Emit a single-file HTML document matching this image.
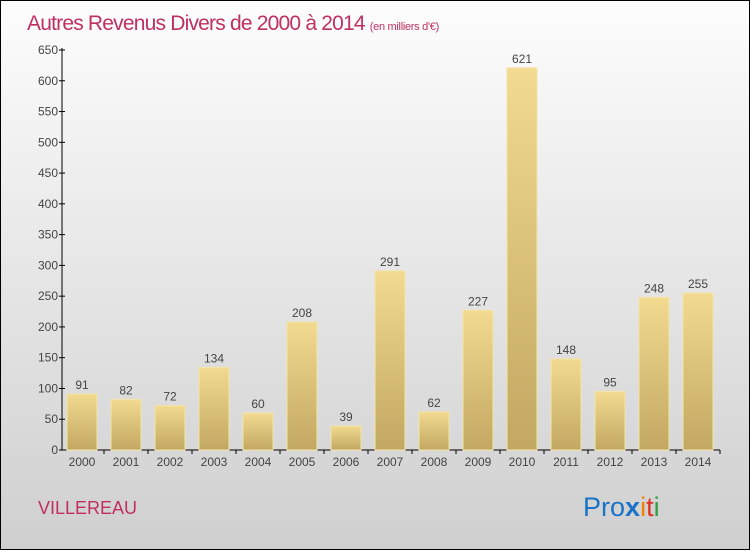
<!DOCTYPE html>
<html><head><meta charset="utf-8"><style>
body{margin:0;width:750px;height:550px;overflow:hidden;font-family:"Liberation Sans",sans-serif}
</style></head><body>
<svg width="750" height="550" xmlns="http://www.w3.org/2000/svg">
<defs>
<linearGradient id="bg" x1="0" y1="0" x2="0" y2="1"><stop offset="0" stop-color="#fdfdfd"/><stop offset="1" stop-color="#cfcfcf"/></linearGradient>
<linearGradient id="bar" x1="0" y1="0" x2="0" y2="1"><stop offset="0" stop-color="#f2da90"/><stop offset="1" stop-color="#c2a862"/></linearGradient>
</defs>
<rect x="0.5" y="0.5" width="749" height="549" fill="url(#bg)" stroke="#000"/>
<text x="27" y="30" font-size="21" letter-spacing="-0.8" fill="#c0305f">Autres Revenus Divers de 2000 à 2014 <tspan font-size="11" letter-spacing="-0.3">(en milliers d'€)</tspan></text>
<g id="axes"></g>
<g id="bars"></g>
<text x="38" y="514" font-size="18" fill="#c0305f">VILLEREAU</text>
<text x="583" y="516" font-size="27"><tspan fill="#1a73c8">Pro</tspan><tspan fill="#1a73c8" font-weight="bold">x</tspan><tspan fill="#f08000">i</tspan><tspan fill="#e03020">t</tspan><tspan fill="#30a040">i</tspan></text>
</svg>
<script>
const years=["2000","2001","2002","2003","2004","2005","2006","2007","2008","2009","2010","2011","2012","2013","2014"];
const values=[91,82,72,134,60,208,39,291,62,227,621,148,95,248,255];
const yTicks=[0,50,100,150,200,250,300,350,400,450,500,550,600,650];
const NS="http://www.w3.org/2000/svg";
const y0=450,yTop=50,yMax=650,x0=62,step=44,bw=30;
function ys(v){return y0-(v/yMax)*(y0-yTop);}
function xc(i){return 82+i*step;}
function mk(t,a,p){const e=document.createElementNS(NS,t);for(const k in a)e.setAttribute(k,a[k]);p.appendChild(e);return e;}
const ax=document.getElementById('axes'),bg=document.getElementById('bars');
const yl=mk('line',{x1:x0,y1:yTop-2,x2:x0,y2:y0,stroke:'#000'},ax);


const xl=mk('line',{x1:x0,y1:y0,x2:720,y2:y0,stroke:'#000'},ax);


yTicks.forEach(v=>{
 const tk=mk('line',{x1:x0-3,y1:ys(v),x2:x0+3,y2:ys(v),stroke:'#000'},ax);
 
 
 const t=mk('text',{x:x0-4,y:ys(v)+4,'font-size':12,fill:'#444','text-anchor':'end'},ax);
 t.textContent=v;
 
 
});
years.forEach((yr,i)=>{
 const v=values[i];
 const r=mk('rect',{x:xc(i)-bw/2,y:ys(v),width:bw,height:y0-ys(v),fill:'url(#bar)',stroke:'#f5e4a8','stroke-width':1},bg);
 
 
 const l=mk('text',{x:xc(i),y:ys(v)-5,'font-size':12,fill:'#444','text-anchor':'middle'},bg);
 l.textContent=v;
 
 
 const xt=mk('text',{x:xc(i),y:466,'font-size':12,fill:'#444','text-anchor':'middle'},ax);
 xt.textContent=yr;
 
 
 const xk=mk('line',{x1:xc(i)+step/2,y1:y0,x2:xc(i)+step/2,y2:y0+4,stroke:'#000'},ax);
 
 
});
</script>
</body></html>
